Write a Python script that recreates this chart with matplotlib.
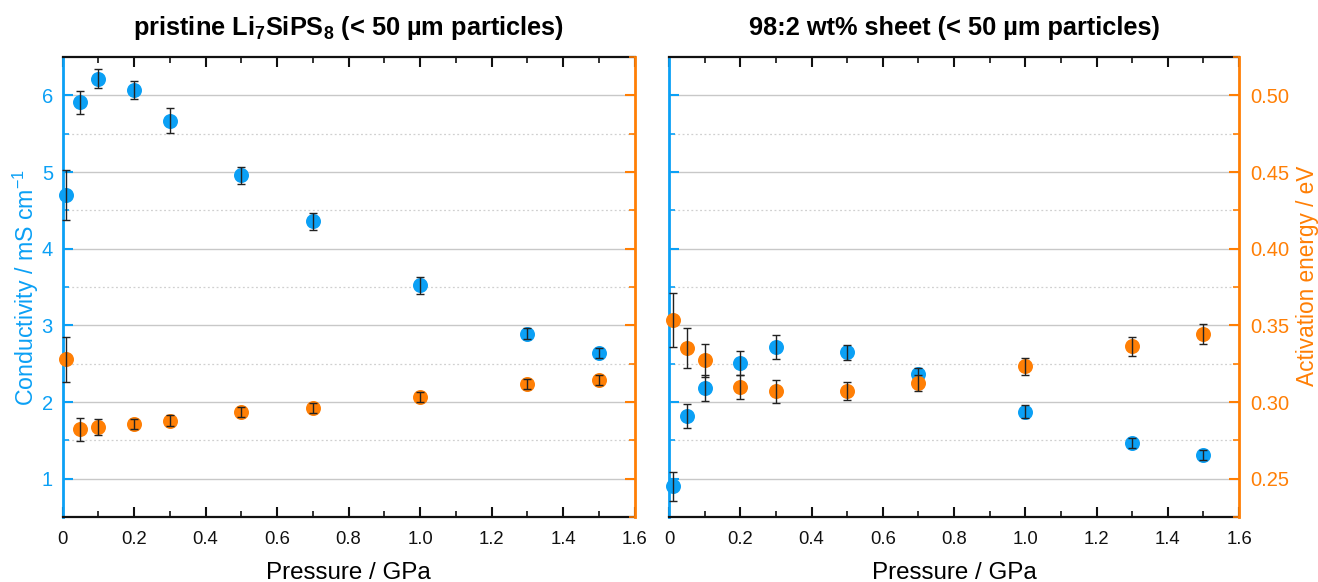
import matplotlib
matplotlib.use('Agg')
import matplotlib.pyplot as plt
from matplotlib.ticker import MultipleLocator, FixedLocator, FixedFormatter

plt.rcParams['font.family'] = ['Liberation Sans', 'DejaVu Sans']
plt.rcParams['mathtext.default'] = 'regular'

BLUE = '#0BA0F5'
ORANGE = '#FF7F05'

# pressure (GPa)
pressure = [0.01, 0.05, 0.1, 0.2, 0.3, 0.5, 0.7, 1.0, 1.3, 1.5]

# pristine Li7SiPS8
cond_pristine = [4.70, 5.91, 6.22, 6.07, 5.67, 4.96, 4.36, 3.52, 2.89, 2.64]
cond_pristine_err = [0.33, 0.15, 0.12, 0.12, 0.16, 0.11, 0.11, 0.11, 0.07, 0.06]
ea_pristine = [0.3278, 0.2822, 0.2837, 0.2857, 0.2879, 0.2933, 0.2961, 0.3030, 0.3117, 0.3141]
ea_pristine_err = [0.0149, 0.0076, 0.0052, 0.0033, 0.0033, 0.0033, 0.0033, 0.0033, 0.0033, 0.0033]

# 98:2 wt% sheet
cond_sheet = [0.90, 1.82, 2.18, 2.51, 2.72, 2.65, 2.36, 1.87, 1.47, 1.31]
cond_sheet_err = [0.19, 0.16, 0.17, 0.16, 0.16, 0.10, 0.08, 0.085, 0.065, 0.065]
ea_sheet = [0.3533, 0.3352, 0.3272, 0.3098, 0.3070, 0.3070, 0.3124, 0.3233, 0.3363, 0.3446]
ea_sheet_err = [0.0176, 0.0130, 0.0109, 0.0078, 0.0074, 0.0059, 0.0052, 0.0054, 0.0060, 0.0065]

titles = [r'pristine Li$_7$SiPS$_8$ (< 50 µm particles)', '98:2 wt% sheet (< 50 µm particles)']
xticks = [0, 0.2, 0.4, 0.6, 0.8, 1.0, 1.2, 1.4, 1.6]
xtick_labels = ['0', '0.2', '0.4', '0.6', '0.8', '1.0', '1.2', '1.4', '1.6']
cond_ticks = [1, 2, 3, 4, 5, 6]
ea_ticks = [0.25, 0.30, 0.35, 0.40, 0.45, 0.50]
ea_tick_labels = ['0.25', '0.30', '0.35', '0.40', '0.45', '0.50']

fig = plt.figure(figsize=(13.18, 5.82), dpi=100)
ax_left = fig.add_axes([0.0475, 0.1117, 0.434, 0.7903])
ax_right = fig.add_axes([0.5076, 0.1117, 0.4325, 0.7903])

panels = [(ax_left, cond_pristine, cond_pristine_err, ea_pristine, ea_pristine_err),
          (ax_right, cond_sheet, cond_sheet_err, ea_sheet, ea_sheet_err)]

for i, (ax, c, ce, e, ee) in enumerate(panels):
    ax2 = ax.twinx()
    ax.set_xlim(0, 1.6)
    ax.set_ylim(0.5, 6.5)
    ax2.set_ylim(0.225, 0.525)

    # grid
    for v in cond_ticks:
        ax.axhline(v, color='#c8c8c8', lw=1.0, zorder=0)
    for v in [1.5, 2.5, 3.5, 4.5, 5.5]:
        ax.axhline(v, color='#d0d0d0', lw=0.9, ls=(0, (1.5, 2)), zorder=0)

    # conductivity (blue)
    ax.plot(pressure, c, 'o', color=BLUE, ms=10.8, mec='none', zorder=3, clip_on=False)
    ax.errorbar(pressure, c, yerr=ce, fmt='none', ecolor='#222222', elinewidth=1.0,
                capsize=3, capthick=1.0, zorder=4, clip_on=False)
    # activation energy (orange)
    ax2.plot(pressure, e, 'o', color=ORANGE, ms=10.8, mec='none', zorder=3, clip_on=False)
    ax2.errorbar(pressure, e, yerr=ee, fmt='none', ecolor='#222222', elinewidth=1.0,
                 capsize=3, capthick=1.0, zorder=4, clip_on=False)

    # spines
    ax.spines['right'].set_visible(False)
    ax2.spines['left'].set_visible(False)
    ax2.spines['top'].set_visible(False)
    ax2.spines['bottom'].set_visible(False)
    ax.spines['left'].set_color(BLUE)
    ax.spines['left'].set_linewidth(2.0)
    ax2.spines['right'].set_color(ORANGE)
    ax2.spines['right'].set_linewidth(2.0)
    for s in ['top', 'bottom']:
        ax.spines[s].set_linewidth(1.6)
        ax.spines[s].set_color('#111111')

    # x ticks
    ax.xaxis.set_major_locator(FixedLocator(xticks))
    ax.xaxis.set_major_formatter(FixedFormatter(xtick_labels))
    ax.xaxis.set_minor_locator(MultipleLocator(0.1))
    ax.tick_params(axis='x', which='both', direction='in', top=True, bottom=True,
                   colors='#111111', labelsize=13.3, pad=10)
    ax.tick_params(axis='x', which='major', length=7, width=1.5)
    ax.tick_params(axis='x', which='minor', length=4, width=1.2)
    ax.set_xlabel('Pressure / GPa', fontsize=17.4, labelpad=10)

    # y ticks
    ax.set_yticks(cond_ticks)
    ax.yaxis.set_minor_locator(MultipleLocator(0.5))
    ax.tick_params(axis='y', which='both', direction='in', colors=BLUE, labelsize=14.5,
                   left=True, right=False, pad=7)
    ax.tick_params(axis='y', which='major', length=7, width=1.5)
    ax.tick_params(axis='y', which='minor', length=4, width=1.2)
    ax2.yaxis.set_major_locator(FixedLocator(ea_ticks))
    ax2.yaxis.set_major_formatter(FixedFormatter(ea_tick_labels))
    ax2.yaxis.set_minor_locator(MultipleLocator(0.025))
    ax2.tick_params(axis='y', which='both', direction='in', colors=ORANGE, labelsize=14.5,
                    left=False, right=True, pad=8)
    ax2.tick_params(axis='y', which='major', length=7, width=1.5)
    ax2.tick_params(axis='y', which='minor', length=4, width=1.2)

    if i == 0:
        ax.set_ylabel('Conductivity / mS cm$^{-1}$', color=BLUE, fontsize=16.7, labelpad=0.5)
        ax2.tick_params(axis='y', labelright=False)
    else:
        ax.tick_params(axis='y', labelleft=False)
        ax2.set_ylabel('Activation energy / eV', color=ORANGE, fontsize=16.3, labelpad=5)
        ax2.yaxis.label.set_y(0.525)

    ax.set_title(titles[i], fontsize=18.3, fontweight='bold', pad=16)

fig.savefig('out.png', dpi=100)
